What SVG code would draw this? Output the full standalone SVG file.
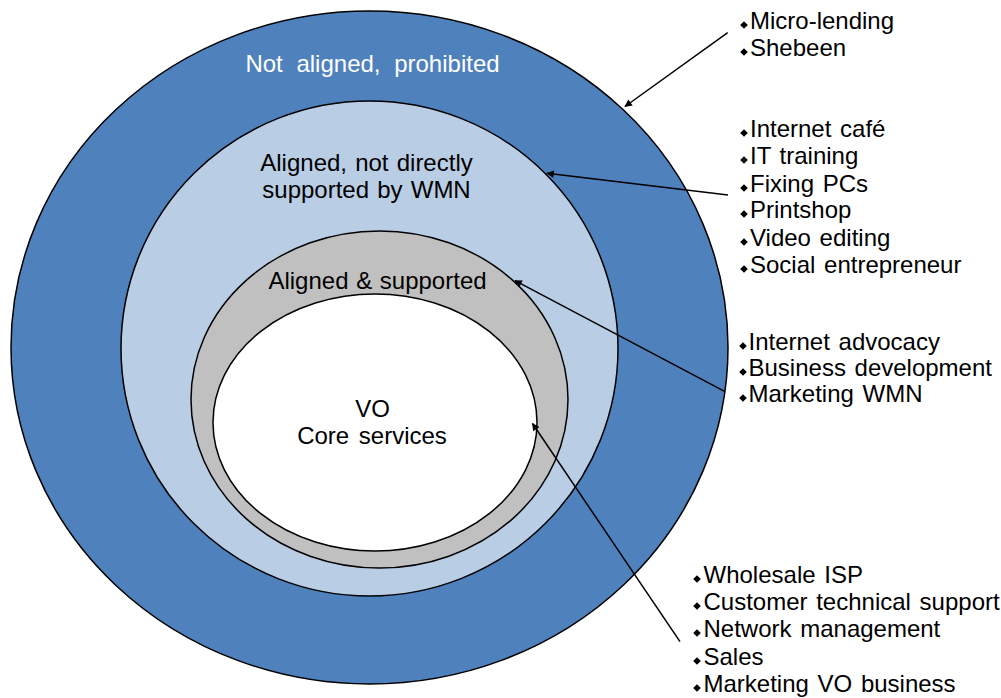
<svg xmlns="http://www.w3.org/2000/svg" width="1001" height="698" viewBox="0 0 1001 698">
  <style>
    .ring { stroke: #000; stroke-width: 1.5; }
    .lbl { font-family: "Liberation Sans", Arial, sans-serif; font-size: 24px; fill: #000; }
    .ctr { text-anchor: middle; }
    .item { font-family: "Liberation Sans", Arial, sans-serif; font-size: 24px; fill: #000; word-spacing: 2px; }
    .conn { stroke: #000; stroke-width: 1.5; fill: none; marker-end: url(#arrow); }
  </style>
  <defs>
    <marker id="arrow" viewBox="0 0 10 10" refX="9" refY="5" markerWidth="7" markerHeight="5" markerUnits="strokeWidth" orient="auto">
      <path d="M0,0 L10,5 L0,10 Z" fill="#000"/>
    </marker>
    <path id="dot" d="M0,-3.8 L3.8,0 L0,3.8 L-3.8,0 Z" fill="#000"/>
  </defs>

  <rect width="1001" height="698" fill="#fff"/>

  <!-- concentric zones -->
  <g id="zone-prohibited">
    <ellipse class="ring" cx="369.5" cy="347.5" rx="358.5" ry="336.5" fill="#4F81BD"/>
    <text class="lbl ctr" x="372.5" y="72" style="fill:#fff" word-spacing="7">Not aligned, prohibited</text>
  </g>
  <g id="zone-aligned">
    <ellipse class="ring" cx="369.5" cy="348.5" rx="248.5" ry="247.5" fill="#B9CDE5"/>
    <text class="lbl ctr" x="366.5" y="171" word-spacing="1.5">Aligned, not directly</text>
    <text class="lbl ctr" x="366.5" y="198" word-spacing="1.5">supported by WMN</text>
  </g>
  <g id="zone-supported">
    <ellipse class="ring" cx="379.5" cy="399.5" rx="188.5" ry="168.5" fill="#C0C0C0"/>
    <text class="lbl ctr" x="377.5" y="289" word-spacing="1">Aligned &amp; supported</text>
  </g>
  <g id="zone-core">
    <ellipse class="ring" cx="375" cy="422.5" rx="162" ry="128.5" fill="#fff"/>
    <text class="lbl ctr" x="372.5" y="417">VO</text>
    <text class="lbl ctr" x="372" y="444" word-spacing="3">Core services</text>
  </g>

  <!-- activity lists -->
  <g id="list-prohibited">
    <use href="#dot" x="744" y="25"/><text class="item" x="750" y="29">Micro-lending</text>
    <use href="#dot" x="744" y="52"/><text class="item" x="750" y="56">Shebeen</text>
  </g>
  <g id="list-aligned">
    <use href="#dot" x="744" y="133"/><text class="item" x="750" y="137">Internet café</text>
    <use href="#dot" x="744" y="160"/><text class="item" x="750" y="164">IT training</text>
    <use href="#dot" x="744" y="188"/><text class="item" x="750" y="192">Fixing PCs</text>
    <use href="#dot" x="744" y="214"/><text class="item" x="750" y="218">Printshop</text>
    <use href="#dot" x="744" y="242"/><text class="item" x="750" y="246">Video editing</text>
    <use href="#dot" x="744" y="269"/><text class="item" x="750" y="273">Social entrepreneur</text>
  </g>
  <g id="list-supported">
    <use href="#dot" x="743" y="346"/><text class="item" x="748.5" y="350">Internet advocacy</text>
    <use href="#dot" x="743" y="372"/><text class="item" x="748.5" y="376">Business development</text>
    <use href="#dot" x="743" y="398"/><text class="item" x="748.5" y="402">Marketing WMN</text>
  </g>
  <g id="list-core">
    <use href="#dot" x="697" y="579"/><text class="item" x="703.5" y="583">Wholesale ISP</text>
    <use href="#dot" x="697" y="606"/><text class="item" x="703.5" y="610">Customer technical support</text>
    <use href="#dot" x="697" y="633"/><text class="item" x="703.5" y="637">Network management</text>
    <use href="#dot" x="697" y="661"/><text class="item" x="703.5" y="665">Sales</text>
    <use href="#dot" x="697" y="688"/><text class="item" x="703.5" y="692">Marketing VO business</text>
  </g>

  <!-- pointers from lists to zones -->
  <g id="connectors">
    <line class="conn" x1="727.7" y1="32.7" x2="625" y2="106.5"/>
    <line class="conn" x1="728" y1="195" x2="547" y2="173.3"/>
    <line class="conn" x1="725" y1="391.7" x2="515" y2="280.7"/>
    <line class="conn" x1="680" y1="641.7" x2="532.5" y2="423.5"/>
  </g>
</svg>
